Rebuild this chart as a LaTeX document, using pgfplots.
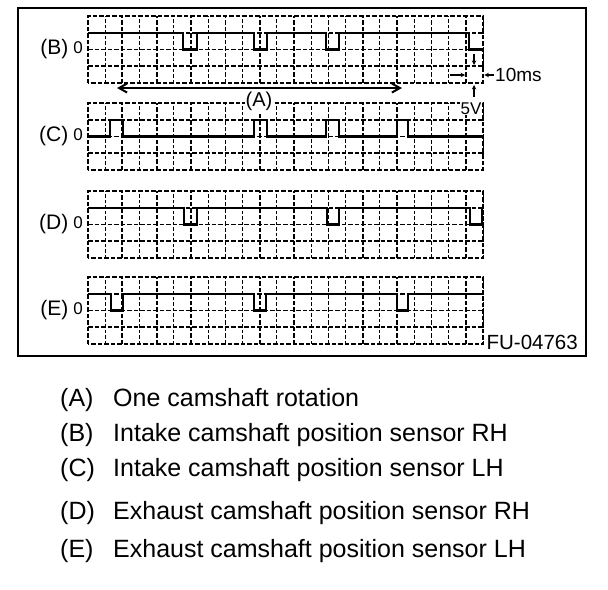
\documentclass[border=0pt]{standalone}
\usepackage{pgfplots}
\pgfplotsset{compat=1.18}
\usepackage{fontspec}
\setmainfont{Liberation Sans}
\usetikzlibrary{arrows.meta}
\newcommand{\fs}[1]{\fontsize{#1bp}{#1bp}\selectfont}
\pgfplotsset{
  panel/.style={
    anchor=north west, scale only axis, width=395bp, height=67bp,
    xmin=0, xmax=230, ymin=-10, ymax=10,
    xtick={0,20,...,220}, minor xtick={10,30,...,230},
    ytick={-5,0,5}, xticklabels={}, yticklabels={},
    major tick length=0pt, minor tick length=0pt,
    grid=both,
    major grid style={black, line width=1.7bp, dash pattern=on 4.5bp off 2bp},
    minor grid style={black, line width=1.0bp, dash pattern=on 3.5bp off 2bp},
    axis line style={black, line width=1.7bp, dash pattern=on 4.5bp off 2bp},
    clip=false,
  },
  sig/.style={black, line width=2.4bp, line join=miter, sharp plot, mark=none},
}
\newcommand{\plabel}[1]{\node[anchor=east, inner sep=0pt] at (axis cs:0,0) [xshift=-5bp]
  {\raisebox{-1bp}{\fs{21}#1}\hspace{5bp}{\fs{17}0}};}
\begin{document}
\begin{tikzpicture}
\path[use as bounding box] (0,0) rectangle (608bp,-590bp);
\draw[line width=1.6bp] (18bp,-8bp) rectangle (586bp,-356bp);

% (B)
\begin{axis}[panel, at={(88bp,-16bp)}]
\addplot[sig] coordinates {(0,5) (55.3,5) (55.3,0) (63.5,0) (63.5,5) (96.7,5) (96.7,0) (104.2,0) (104.2,5) (138.6,5) (138.6,0) (146.2,0) (146.2,5) (221.9,5) (221.9,0) (230,0)};
\plabel{(B)}
\draw[{Straight Barb[length=8bp,width=9bp]}-{Straight Barb[length=8bp,width=9bp]}, line width=2bp] (axis cs:16.9,-11.5) -- (axis cs:182.8,-11.5);
\draw[-{Stealth[length=4.5bp,width=4.5bp]}, line width=1.3bp] (axis cs:224.8,-1.2) -- (axis cs:224.8,-4.6);
\draw[-{Stealth[length=4.5bp,width=4.5bp]}, line width=1.3bp] (axis cs:224.8,-14.2) -- (axis cs:224.8,-10.6);
\draw[-{Stealth[length=4.5bp,width=4.5bp]}, line width=1.3bp] (axis cs:210.8,-7.6) -- (axis cs:219.6,-7.6);
\draw[-{Stealth[length=4.5bp,width=4.5bp]}, line width=1.3bp] (axis cs:236.5,-7.6) -- (axis cs:230.8,-7.6);
\node[anchor=west, inner sep=0pt, font=\fs{19}] at (axis cs:237,-7.6) {10ms};
\end{axis}

% (C)
\begin{axis}[panel, at={(88bp,-103bp)}]
\addplot[sig] coordinates {(0,0) (12.8,0) (12.8,5) (20.4,5) (20.4,0) (96.7,0) (96.7,5) (104.2,5) (104.2,0) (138.6,0) (138.6,5) (146.2,5) (146.2,0) (179.9,0) (179.9,5) (186.3,5) (186.3,0) (230,0)};
\plabel{(C)}
\node[fill=white, inner sep=1bp, font=\fs{20}] at (axis cs:99.6,10.4) {(A)};
\node[fill=white, inner sep=0.5bp, font=\fs{17}] at (axis cs:223,8.3) {5V};
\end{axis}

% (D)
\begin{axis}[panel, at={(88bp,-191bp)}]
\addplot[sig] coordinates {(0,5) (55.9,5) (55.9,0) (63.5,0) (63.5,5) (139.2,5) (139.2,0) (146.2,0) (146.2,5) (222.4,5) (222.4,0) (229.4,0) (229.4,5) (230,5)};
\plabel{(D)}
\end{axis}

% (E)
\begin{axis}[panel, at={(88bp,-277bp)}]
\addplot[sig] coordinates {(0,5) (13.4,5) (13.4,0) (20.4,0) (20.4,5) (96.7,5) (96.7,0) (103.6,0) (103.6,5) (179.9,5) (179.9,0) (186.3,0) (186.3,5) (230,5)};
\plabel{(E)}
\end{axis}

\node[anchor=east, inner sep=0pt, font=\fs{20.5}] at (578bp,-342bp) {FU-04763};

\begin{scope}[every node/.style={anchor=base west, inner sep=0pt, font=\fs{25}}]
\node at (60bp,-406bp) {(A)}; \node at (113bp,-406bp) {One camshaft rotation};
\node at (60bp,-441bp) {(B)}; \node at (113bp,-441bp) {Intake camshaft position sensor RH};
\node at (60bp,-476bp) {(C)}; \node at (113bp,-476bp) {Intake camshaft position sensor LH};
\node at (60bp,-519bp) {(D)}; \node at (113bp,-519bp) {Exhaust camshaft position sensor RH};
\node at (60bp,-557bp) {(E)}; \node at (113bp,-557bp) {Exhaust camshaft position sensor LH};
\end{scope}
\end{tikzpicture}
\end{document}
